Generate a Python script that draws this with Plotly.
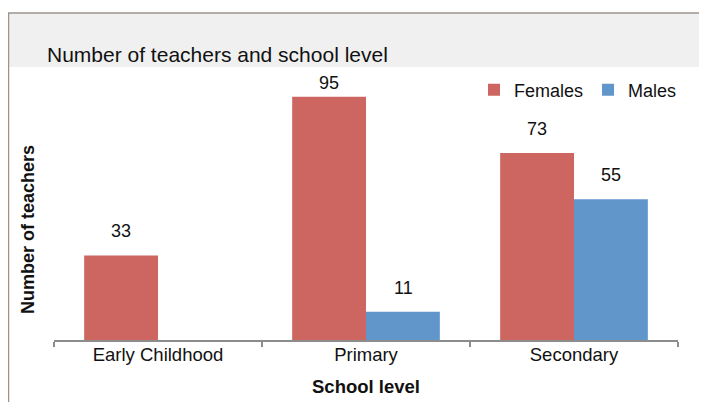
import plotly.graph_objects as go

categories = ["Early Childhood", "Primary", "Secondary"]
females = [33, 95, 73]
males = [None, 11, 55]

OFF = 8  # browser body margin
W, H = 707 - OFF, 402 - OFF
L, R, T, B = 54 - OFF, 29, 67 - OFF, 62
Y_MAX = 106.6

FEMALE_COLOR = "#CD6660"
MALE_COLOR = "#6196CB"
FONT = "Liberation Sans, Arial, Helvetica, sans-serif"

fig = go.Figure()
fig.add_trace(go.Bar(name="Females", x=categories, y=females, marker_color=FEMALE_COLOR,
                     marker_line_width=0))
fig.add_trace(go.Bar(name="Males", x=categories, y=males, marker_color=MALE_COLOR,
                     marker_line_width=0))

pw = W - L - R
ph = H - T - B
px_per_unit = ph / Y_MAX
label_cap = 100.5
annotations = []
for series, shift in ((females, -37), (males, 37)):
    for cat, v in zip(categories, series):
        if v is None:
            continue
        annotations.append(dict(x=cat, y=min(v + 24 / px_per_unit, label_cap), xref="x", yref="y",
                                text=str(v), showarrow=False, xshift=shift, yanchor="middle",
                                font=dict(size=18, color="#111111", family=FONT)))

# page pixel -> paper coords
def px(x):
    return (x - OFF - L) / pw
def py(y):
    return (H - B - (y - OFF)) / ph

annotations.append(dict(x=px(28), y=py(230), xref="paper", yref="paper", text="<b>Number of teachers</b>",
                        textangle=-90, showarrow=False, xanchor="center", yanchor="middle",
                        font=dict(size=18, color="#111111", family=FONT)))
annotations.append(dict(x=px(366), y=py(386), xref="paper", yref="paper", text="<b>School level</b>",
                        showarrow=False, xanchor="center", yanchor="middle",
                        font=dict(size=18.5, color="#111111", family=FONT)))

shapes = [
    dict(type="rect", xref="paper", yref="paper", x0=px(8), x1=px(707), y0=py(67), y1=py(13),
         fillcolor="#F0F0F0", line_width=0, layer="below"),
    dict(type="line", xref="paper", yref="paper", x0=px(8), x1=px(707), y0=py(13), y1=py(13),
         line=dict(color="#9E938C", width=1.5)),
    dict(type="line", xref="paper", yref="paper", x0=px(8.5), x1=px(8.5), y0=py(13), y1=py(402),
         line=dict(color="#9E938C", width=1.5)),
]

fig.update_layout(
    width=W, height=H,
    margin=dict(l=L, r=R, t=T, b=B, autoexpand=False),
    paper_bgcolor="white", plot_bgcolor="white",
    barmode="group", bargap=0.29, bargroupgap=0,
    font=dict(family=FONT, size=18, color="#111111"),
    title=dict(text="Number of teachers and school level", xref="container", yref="container",
               x=(47 - OFF) / W, y=1 - (55 - OFF) / H, xanchor="left", yanchor="middle",
               font=dict(size=21, color="#111111", family=FONT)),
    legend=dict(orientation="h", x=px(474), y=py(90), xanchor="left", yanchor="middle",
                bgcolor="rgba(0,0,0,0)", font=dict(size=18, color="#111111", family=FONT),
                traceorder="normal"),
    xaxis=dict(showline=True, linecolor="#8C8C8C", linewidth=1.5, ticks="outside",
               tickson="boundaries", ticklen=5, tickcolor="#8C8C8C", tickwidth=1.5,
               tickfont=dict(size=18.5, color="#111111"), ticklabelstandoff=-3,
               showgrid=False, zeroline=False),
    yaxis=dict(range=[0, Y_MAX], showticklabels=False, showgrid=False, zeroline=False,
               showline=False, ticks=""),
    annotations=annotations,
    shapes=shapes,
)

fig.write_html("out.html")
